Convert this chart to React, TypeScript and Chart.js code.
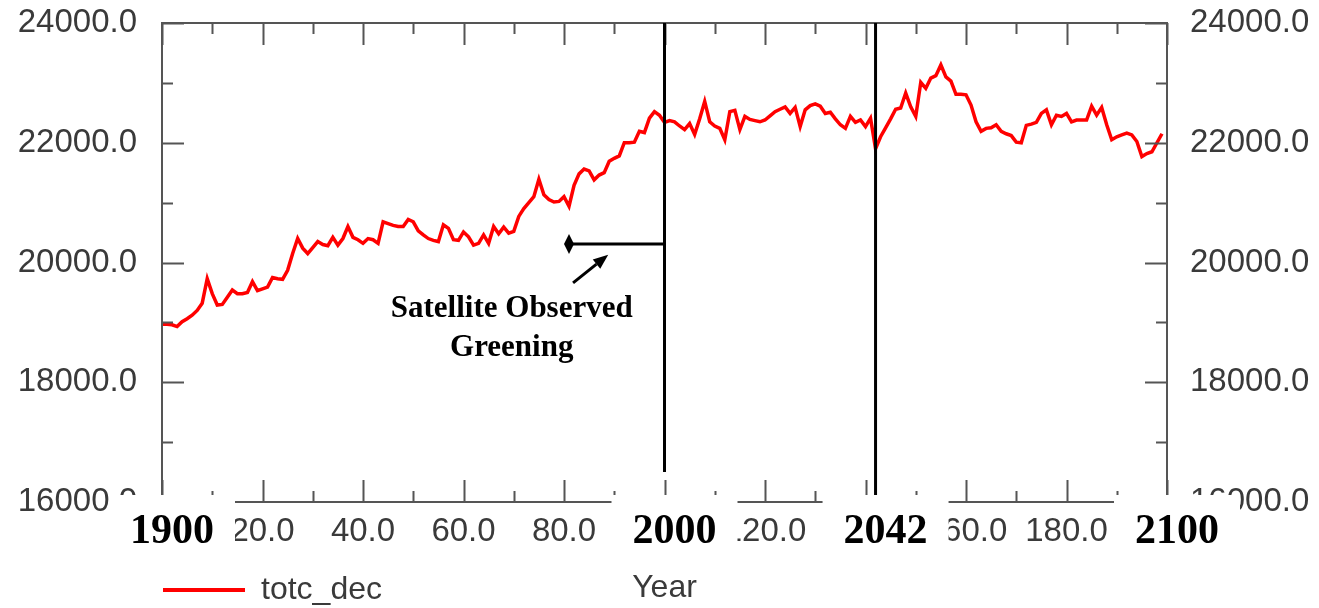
import React, { useEffect, useRef } from 'react';
import { Chart, registerables } from 'chart.js';

Chart.register(...registerables);

// ---------- data ----------
const START_YEAR = 1900;
const totcDec: number[] = [
  // 1900-1909
  18970, 18970, 18960, 18930, 19010, 19060, 19120, 19200, 19320, 19730,
  // 1910-1919
  19480, 19290, 19300, 19420, 19540, 19480, 19480, 19500, 19680, 19530,
  // 1920-1929
  19560, 19590, 19750, 19730, 19720, 19870, 20150, 20400, 20240, 20150,
  // 1930-1939
  20250, 20350, 20300, 20280, 20420, 20290, 20400, 20600, 20420, 20380,
  // 1940-1949
  20320, 20400, 20380, 20320, 20680, 20650, 20620, 20600, 20600, 20720,
  // 1950-1959
  20680, 20530, 20460, 20400, 20370, 20350, 20630, 20570, 20380, 20370,
  // 1960-1969
  20510, 20430, 20290, 20320, 20460, 20320, 20600, 20480, 20590, 20490,
  // 1970-1979
  20520, 20770, 20900, 21000, 21100, 21390, 21130, 21050, 21010, 21020,
  // 1980-1989
  21100, 20940, 21290, 21480, 21560, 21530, 21380, 21460, 21500, 21690,
  // 1990-1999
  21740, 21780, 22000, 22000, 22010, 22190, 22170, 22410, 22520, 22460,
  // 2000-2009
  22340, 22370, 22350, 22280, 22220, 22320, 22140, 22400, 22690, 22350,
  // 2010-2019
  22280, 22240, 22050, 22520, 22540, 22220, 22440, 22390, 22370, 22350,
  // 2020-2029
  22380, 22450, 22520, 22560, 22600, 22490, 22590, 22270, 22550, 22620,
  // 2030-2039
  22650, 22610, 22490, 22510, 22400, 22300, 22240, 22440, 22340, 22380,
  // 2040-2049
  22270, 22410, 21900, 22100, 22250, 22400, 22560, 22580, 22830, 22600,
  // 2050-2059
  22440, 23010, 22910, 23080, 23120, 23300, 23100, 23030, 22810, 22810,
  // 2060-2069
  22800, 22630, 22350, 22190, 22240, 22250, 22300, 22190, 22150, 22120,
  // 2070-2079
  22010, 22000, 22290, 22310, 22340, 22490, 22550, 22300, 22460, 22440,
  // 2080-2089
  22490, 22350, 22380, 22380, 22380, 22610, 22460, 22590, 22300, 22050,
  // 2090-2099
  22100, 22130, 22160, 22130, 22020, 21770, 21820, 21850, 22000, 22150,
];

const X_MIN = 1900;
const X_MAX = 2100;
const Y_MIN = 16000;
const Y_MAX = 24000;

const xLabelYears = [1900, 1920, 1940, 1960, 1980, 2000, 2020, 2040, 2060, 2080, 2100];
const xTickLabels = ['0.0', '20.0', '40.0', '60.0', '80.0', '100.0', '120.0', '140.0', '160.0', '180.0', '200.0'];
const xMinorYears = [1910, 1930, 1950, 1970, 1990, 2010, 2030, 2050, 2070, 2090];

const yLabelValues = [16000, 18000, 20000, 22000, 24000];
const yTickLabels = ['16000.0', '18000.0', '20000.0', '22000.0', '24000.0'];
const yMinorValues = [17000, 19000, 21000, 23000];

const markerYears = [1900, 2000, 2042, 2100];
const markerLabels = ['1900', '2000', '2042', '2100'];

const vLineYears = [2000, 2042];
const vLineFrom = [24000, 24000];
const vLineTo = [16500, 16000];

const greeningStartYear = 1981;
const greeningEndYear = 2000;
const greeningValue = 20310;
const arrowTail = { x: 1981.8, y: 19660 };
const arrowHead = { x: 1988.8, y: 20130 };
const noteLines = ['Satellite Observed', 'Greening'];
const noteYears = [1969.6, 1969.6];
const noteValues = [19220, 18570];

const seriesName = 'totc_dec';
const axisTitle = 'Year';

// ---------- styles ----------
const SANS = '"Liberation Sans", Arial, sans-serif';
const SERIF = '"Liberation Serif", "Times New Roman", serif';
const AXIS_COLOR = '#555';
const TEXT_COLOR = '#3a3a3a';

const overlayPlugin = {
  id: 'overlay',
  afterDatasetsDraw(chart: any) {
    const { ctx, chartArea: a, scales } = chart;
    const xs = scales.x;
    const ys = scales.y;
    ctx.save();

    // frame
    ctx.strokeStyle = AXIS_COLOR;
    ctx.lineWidth = 2;
    ctx.strokeRect(a.left, a.top, a.right - a.left, a.bottom - a.top);

    // inward tick marks
    const drawX = (yr: number, len: number) => {
      const px = Math.round(xs.getPixelForValue(yr)) + 0.5;
      ctx.beginPath();
      ctx.moveTo(px, a.bottom);
      ctx.lineTo(px, a.bottom - len);
      ctx.moveTo(px, a.top);
      ctx.lineTo(px, a.top + len);
      ctx.stroke();
    };
    const drawY = (v: number, len: number) => {
      const py = Math.round(ys.getPixelForValue(v)) + 0.5;
      ctx.beginPath();
      ctx.moveTo(a.left, py);
      ctx.lineTo(a.left + len, py);
      ctx.moveTo(a.right, py);
      ctx.lineTo(a.right - len, py);
      ctx.stroke();
    };
    xLabelYears.forEach((yr) => drawX(yr, 22));
    xMinorYears.forEach((yr) => drawX(yr, 11));
    yLabelValues.forEach((v) => drawY(v, 22));
    yMinorValues.forEach((v) => drawY(v, 11));

    // vertical marker lines
    ctx.strokeStyle = '#000';
    ctx.lineWidth = 3;
    vLineYears.forEach((yr, i) => {
      const px = xs.getPixelForValue(yr);
      ctx.beginPath();
      ctx.moveTo(px, ys.getPixelForValue(vLineFrom[i]));
      ctx.lineTo(px, ys.getPixelForValue(vLineTo[i]));
      ctx.stroke();
    });

    // satellite bracket
    const bx0 = xs.getPixelForValue(greeningStartYear);
    const bx1 = xs.getPixelForValue(greeningEndYear);
    const by = ys.getPixelForValue(greeningValue);
    ctx.beginPath();
    ctx.moveTo(bx0, by);
    ctx.lineTo(bx1, by);
    ctx.stroke();
    ctx.fillStyle = '#000';
    ctx.beginPath();
    ctx.moveTo(bx0, by - 10);
    ctx.lineTo(bx0 + 5, by);
    ctx.lineTo(bx0, by + 10);
    ctx.lineTo(bx0 - 5, by);
    ctx.closePath();
    ctx.fill();

    // arrow
    const tx = xs.getPixelForValue(arrowTail.x);
    const ty = ys.getPixelForValue(arrowTail.y);
    const hx = xs.getPixelForValue(arrowHead.x);
    const hy = ys.getPixelForValue(arrowHead.y);
    const ang = Math.atan2(hy - ty, hx - tx);
    const headLen = 15;
    const headHalf = 6;
    const baseX = hx - headLen * Math.cos(ang);
    const baseY = hy - headLen * Math.sin(ang);
    ctx.beginPath();
    ctx.moveTo(tx, ty);
    ctx.lineTo(baseX, baseY);
    ctx.stroke();
    ctx.beginPath();
    ctx.moveTo(hx, hy);
    ctx.lineTo(baseX + headHalf * Math.sin(ang), baseY - headHalf * Math.cos(ang));
    ctx.lineTo(baseX - headHalf * Math.sin(ang), baseY + headHalf * Math.cos(ang));
    ctx.closePath();
    ctx.fill();

    // note text
    ctx.font = `bold 31px ${SERIF}`;
    ctx.textAlign = 'center';
    ctx.textBaseline = 'middle';
    noteLines.forEach((t, i) => {
      ctx.fillText(t, xs.getPixelForValue(noteYears[i]), ys.getPixelForValue(noteValues[i]));
    });

    // pasted year labels on white boxes
    ctx.font = `bold 42px ${SERIF}`;
    markerYears.forEach((yr, i) => {
      const cx = xs.getPixelForValue(yr) + 10;
      ctx.fillStyle = '#fff';
      ctx.fillRect(cx - 63, a.bottom - 7, 126, 70);
      ctx.fillStyle = '#000';
      ctx.fillText(markerLabels[i], cx, a.bottom + 30);
    });

    ctx.restore();
  },
};

export default function App() {
  const canvasRef = useRef<HTMLCanvasElement | null>(null);

  useEffect(() => {
    document.body.style.margin = '0';
    const canvas = canvasRef.current;
    if (!canvas) return;

    const points = totcDec.map((v, i) => ({ x: START_YEAR + i, y: v }));

    const yAxisCommon = (pos: 'left' | 'right', width: number, pad: number) => ({
      type: 'linear' as const,
      position: pos,
      min: Y_MIN,
      max: Y_MAX,
      grid: { display: false, drawTicks: false },
      border: { display: false },
      afterBuildTicks: (s: any) => {
        s.ticks = yLabelValues.map((v) => ({ value: v }));
      },
      ticks: {
        padding: pad,
        color: TEXT_COLOR,
        font: { family: SANS, size: 33 },
        callback: (_v: any, i: number) => yTickLabels[i],
      },
      afterFit: (s: any) => {
        s.width = width;
        s.paddingTop = 0;
        s.paddingBottom = 0;
      },
    });

    const chart = new Chart(canvas, {
      type: 'line',
      data: {
        datasets: [
          {
            label: seriesName,
            data: points,
            borderColor: '#ff0000',
            backgroundColor: '#ff0000',
            borderWidth: 3.5,
            pointRadius: 0,
            tension: 0,
            fill: false,
            yAxisID: 'y',
          },
        ],
      },
      options: {
        animation: false,
        responsive: false,
        maintainAspectRatio: false,
        events: [],
        layout: { padding: { left: 0, right: 0, top: 23, bottom: -8 } },
        plugins: {
          tooltip: { enabled: false },
          legend: {
            display: true,
            position: 'bottom',
            align: 'start',
            fullSize: false,
            labels: {
              boxWidth: 82,
              boxHeight: 4,
              padding: 1,
              color: TEXT_COLOR,
              font: { family: SANS, size: 32 },
              generateLabels: () => [
                {
                  text: seriesName,
                  fillStyle: '#ff0000',
                  strokeStyle: '#ff0000',
                  lineWidth: 0,
                  hidden: false,
                  datasetIndex: 0,
                  fontColor: TEXT_COLOR,
                } as any,
              ],
            },
          },
        },
        scales: {
          x: {
            type: 'linear',
            position: 'bottom',
            min: X_MIN,
            max: X_MAX,
            grid: { display: false, drawTicks: false },
            border: { display: false },
            afterBuildTicks: (s: any) => {
              s.ticks = xLabelYears.map((v) => ({ value: v }));
            },
            ticks: {
              autoSkip: false,
              maxRotation: 0,
              padding: 10,
              color: TEXT_COLOR,
              font: { family: SANS, size: 33 },
              callback: (_v: any, i: number) => xTickLabels[i],
            },
            title: {
              display: true,
              text: axisTitle,
              color: TEXT_COLOR,
              font: { family: SANS, size: 32 },
              padding: { top: 0, bottom: -34 },
            },
            afterFit: (s: any) => {
              s.height = 71;
              s.paddingLeft = 0;
              s.paddingRight = 0;
            },
          },
          y: yAxisCommon('left', 162, 25) as any,
          y2: yAxisCommon('right', 152, 23) as any,
        },
      },
      plugins: [overlayPlugin],
    });

    return () => chart.destroy();
  }, []);

  return (
    <div style={{ width: 1319, height: 608, position: 'relative', background: '#fff' }}>
      <canvas ref={canvasRef} width={1319} height={608} style={{ display: 'block' }} />
    </div>
  );
}
